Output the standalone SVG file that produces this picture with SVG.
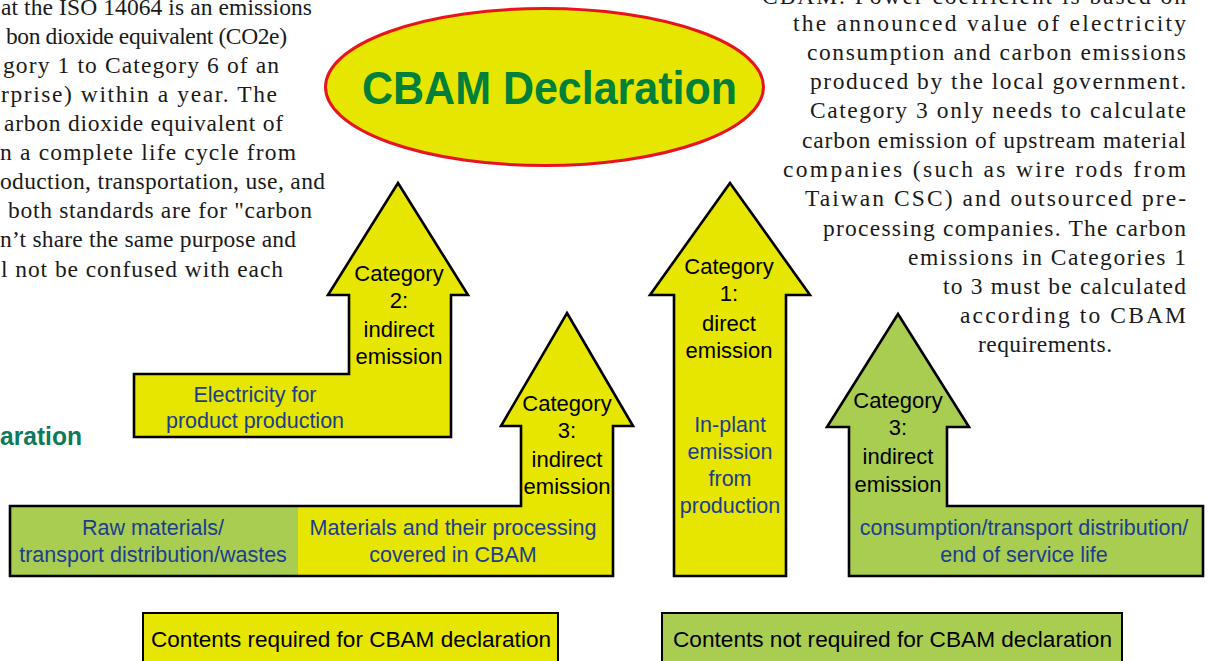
<svg xmlns="http://www.w3.org/2000/svg" width="1208" height="661" viewBox="0 0 1208 661">
<style>
.para{font-family:"Liberation Serif","Times New Roman",serif;font-size:23.5px;fill:#1a1a1a}
.blk{font-family:"Liberation Sans",Arial,sans-serif;font-size:22px;fill:#000;text-anchor:middle}
.blu{font-family:"Liberation Sans",Arial,sans-serif;font-size:21.5px;fill:#1c3d8f;text-anchor:middle}
.arrow{stroke:#000;stroke-width:2.6;stroke-linejoin:miter}
.yel{fill:#e6e600}
.grn{fill:#a9cd51}
.leg{font-family:"Liberation Sans",Arial,sans-serif;font-size:22.5px;fill:#000}
</style>
<rect width="1208" height="661" fill="#fff"/>

<g id="left-paragraph" class="para">
<text x="1" y="15" textLength="311" lengthAdjust="spacing">at the ISO 14064 is an emissions</text>
<text x="6" y="44" textLength="281" lengthAdjust="spacing">bon dioxide equivalent (CO2e)</text>
<text x="3" y="73" textLength="276" lengthAdjust="spacing">gory 1 to Category 6 of an</text>
<text x="1" y="102" textLength="276" lengthAdjust="spacing">rprise) within a year. The</text>
<text x="4" y="131" textLength="279" lengthAdjust="spacing">arbon dioxide equivalent of</text>
<text x="0" y="160" textLength="296" lengthAdjust="spacing">n a complete life cycle from</text>
<text x="0" y="189" textLength="325" lengthAdjust="spacing">oduction, transportation, use, and</text>
<text x="8" y="218" textLength="304" lengthAdjust="spacing">both standards are for "carbon</text>
<text x="0" y="247" textLength="296" lengthAdjust="spacing">n’t share the same purpose and</text>
<text x="1" y="277" textLength="282" lengthAdjust="spacing">l not be confused with each</text>
</g>

<g id="right-paragraph" class="para">
<text x="762" y="4" textLength="424" lengthAdjust="spacing">CBAM. Power coefficient is based on</text>
<text x="793" y="30.5" textLength="393" lengthAdjust="spacing">the announced value of electricity</text>
<text x="807" y="60" textLength="379" lengthAdjust="spacing">consumption and carbon emissions</text>
<text x="810" y="89" textLength="376" lengthAdjust="spacing">produced by the local government.</text>
<text x="810" y="118" textLength="376" lengthAdjust="spacing">Category 3 only needs to calculate</text>
<text x="802" y="148" textLength="384" lengthAdjust="spacing">carbon emission of upstream material</text>
<text x="783" y="177" textLength="403" lengthAdjust="spacing">companies (such as wire rods from</text>
<text x="805" y="206" textLength="381" lengthAdjust="spacing">Taiwan CSC) and outsourced pre-</text>
<text x="823" y="236" textLength="363" lengthAdjust="spacing">processing companies. The carbon</text>
<text x="908" y="265" textLength="278" lengthAdjust="spacing">emissions in Categories 1</text>
<text x="943" y="294" textLength="243" lengthAdjust="spacing">to 3 must be calculated</text>
<text x="960" y="323" textLength="226" lengthAdjust="spacing">according to CBAM</text>
<text x="978" y="352" textLength="134" lengthAdjust="spacing">requirements.</text>
</g>

<g id="left-title-fragment">
<text x="0" y="445" textLength="82" lengthAdjust="spacingAndGlyphs" font-family="'Liberation Sans',Arial,sans-serif" font-weight="bold" font-size="26" fill="#0e7a5c">aration</text>
</g>

<g id="title">
<ellipse cx="544.5" cy="87" rx="219" ry="78.5" fill="#e6e600" stroke="#e8141c" stroke-width="3"/>
<text x="362" y="104" textLength="375" lengthAdjust="spacingAndGlyphs" font-family="'Liberation Sans',Arial,sans-serif" font-weight="bold" font-size="47" fill="#00803a">CBAM Declaration</text>
</g>

<g id="category2">
<path class="arrow yel" d="M398,183 L468,295 L451,295 L451,437 L134,437 L134,374 L349,374 L349,295 L328,295 Z"/>
<text class="blk" x="399" y="281">Category</text>
<text class="blk" x="399" y="308">2:</text>
<text class="blk" x="399" y="337">indirect</text>
<text class="blk" x="399" y="364">emission</text>
<text class="blu" x="255" y="402">Electricity for</text>
<text class="blu" x="255" y="428">product production</text>
</g>

<g id="category3-upstream">
<path class="yel" d="M567,313 L633,426 L613,426 L613,576 L10,576 L10,506 L521,506 L521,426 L501,426 Z"/>
<rect class="grn" x="10" y="506" width="288" height="70"/>
<path class="arrow" fill="none" d="M567,313 L633,426 L613,426 L613,576 L10,576 L10,506 L521,506 L521,426 L501,426 Z"/>
<text class="blk" x="567" y="411">Category</text>
<text class="blk" x="567" y="438">3:</text>
<text class="blk" x="567" y="467">indirect</text>
<text class="blk" x="567" y="494">emission</text>
<text class="blu" x="153" y="535">Raw materials/</text>
<text class="blu" x="153" y="562">transport distribution/wastes</text>
<text class="blu" x="453" y="535">Materials and their processing</text>
<text class="blu" x="453" y="562">covered in CBAM</text>
</g>

<g id="category1">
<path class="arrow yel" d="M730,183 L810,295 L786,295 L786,576 L674,576 L674,295 L650,295 Z"/>
<text class="blk" x="729" y="274">Category</text>
<text class="blk" x="729" y="301">1:</text>
<text class="blk" x="729" y="331">direct</text>
<text class="blk" x="729" y="358">emission</text>
<text class="blu" x="730" y="432">In-plant</text>
<text class="blu" x="730" y="459">emission</text>
<text class="blu" x="730" y="486">from</text>
<text class="blu" x="730" y="513">production</text>
</g>

<g id="category3-downstream">
<path class="arrow grn" d="M898,314 L969,427 L947,427 L947,506 L1203,506 L1203,576 L849,576 L849,427 L827,427 Z"/>
<text class="blk" x="898" y="408">Category</text>
<text class="blk" x="898" y="435">3:</text>
<text class="blk" x="898" y="464">indirect</text>
<text class="blk" x="898" y="492">emission</text>
<text class="blu" x="1024" y="535">consumption/transport distribution/</text>
<text class="blu" x="1024" y="562">end of service life</text>
</g>

<g id="legend-required">
<rect class="yel" x="143" y="613" width="415" height="60" stroke="#000" stroke-width="2"/>
<text class="leg" x="151" y="647" textLength="400" lengthAdjust="spacingAndGlyphs">Contents required for CBAM declaration</text>
</g>

<g id="legend-not-required">
<rect class="grn" x="662" y="613" width="460" height="60" stroke="#000" stroke-width="2"/>
<text class="leg" x="673" y="647" textLength="439" lengthAdjust="spacingAndGlyphs">Contents not required for CBAM declaration</text>
</g>

<g id="connectors"/>
</svg>
